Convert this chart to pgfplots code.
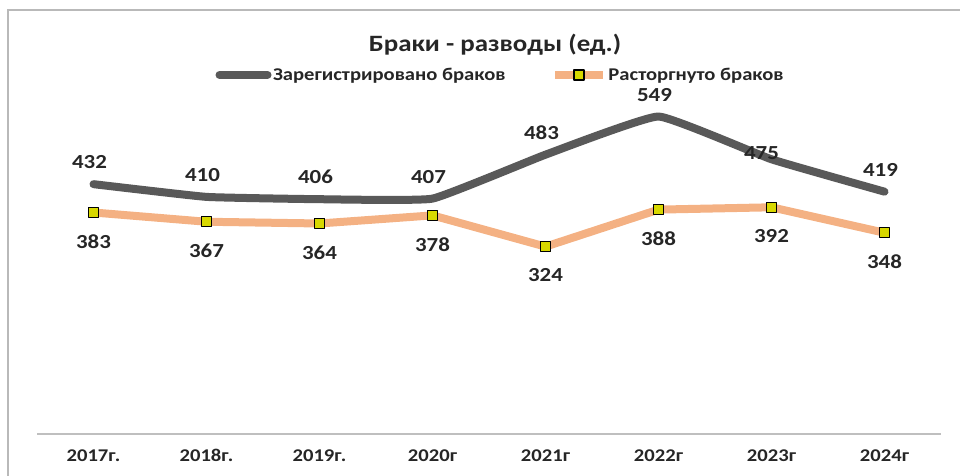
\documentclass[border=0pt]{standalone}
\usepackage{fontspec}
\setmainfont{Carlito}[FakeStretch=1.15]
\usepackage{pgfplots}
\pgfplotsset{compat=1.18}

\definecolor{sgray}{HTML}{595959}
\definecolor{sorange}{HTML}{F4B183}
\definecolor{mfill}{HTML}{D8D800}
\definecolor{labtext}{HTML}{262626}

\begin{document}
\begin{tikzpicture}
% page frame, 960 x 476 px
\path[use as bounding box] (0,0) rectangle (960bp,476bp);
\draw[gray!55, line width=1.5bp] (8bp,0) -- (8bp,466bp) -- (960bp,466bp);

\node[font=\bfseries\fontsize{23.5}{26}\selectfont, text=labtext] at (495bp,431bp) {Браки - разводы (ед.)};

\begin{axis}[
	at={(37bp,42bp)}, anchor=south west,
	scale only axis, width=904bp, height=347bp,
	xmin=-0.5, xmax=7.5, ymin=0, ymax=600,
	axis y line=none,
	axis x line*=bottom,
	x axis line style={draw=gray!50, line width=1.5bp, -},
	xtick={0,1,2,3,4,5,6,7},
	xticklabels={2017г., 2018г., 2019г., 2020г, 2021г, 2022г, 2023г, 2024г},
	major tick length=0pt,
	xticklabel style={font=\bfseries\fontsize{18}{20}\selectfont, text=labtext, yshift=-12bp},
	clip=false,
	/pgf/number format/assume math mode=true,
	legend style={at={(0.5125,1.035)}, anchor=center, draw=none, fill=none,
		legend columns=2, font=\bfseries\fontsize{18}{20}\selectfont, text=labtext,
		nodes={inner xsep=1.5bp},
		/tikz/every even column/.append style={column sep=44bp}},
	legend image code/.code={\draw[mark repeat=2, mark phase=2, #1]
		plot coordinates {(0bp,0bp)(24bp,0bp)(48bp,0bp)};},
	every node near coord/.append style={font=\bfseries\fontsize{20}{22}\selectfont, text=labtext, inner sep=0pt},
]
\addplot[sgray, line width=8bp, line cap=round, line join=round, smooth, tension=0.2, mark=none]
	coordinates {(0,432)(1,410)(2,406)(3,407)(4,483)(5,549)(6,475)(7,419)};
\addlegendentry{Зарегистрировано браков}
\addplot[sorange, line width=8bp, line join=round,
	mark=square*, mark size=5bp,
	mark options={draw=black, line width=1.3bp, fill=mfill}]
	coordinates {(0,383)(1,367)(2,364)(3,378)(4,324)(5,388)(6,392)(7,348)};
\addlegendentry{Расторгнуто браков}

% data labels
\addplot[draw=none, mark=none, nodes near coords,
	every node near coord/.append style={anchor=south, yshift=15bp, xshift=-4bp}]
	coordinates {(0,432)(1,410)(2,406)(3,407)(4,483)(5,549)(7,419)};
\addplot[draw=none, mark=none, nodes near coords,
	every node near coord/.append style={anchor=center, yshift=6bp, xshift=-10bp}]
	coordinates {(6,475)};
\addplot[draw=none, mark=none, nodes near coords,
	every node near coord/.append style={anchor=north, yshift=-22bp}]
	coordinates {(0,383)(1,367)(2,364)(3,378)(4,324)(5,388)(6,392)(7,348)};
\end{axis}
\end{tikzpicture}
\end{document}
